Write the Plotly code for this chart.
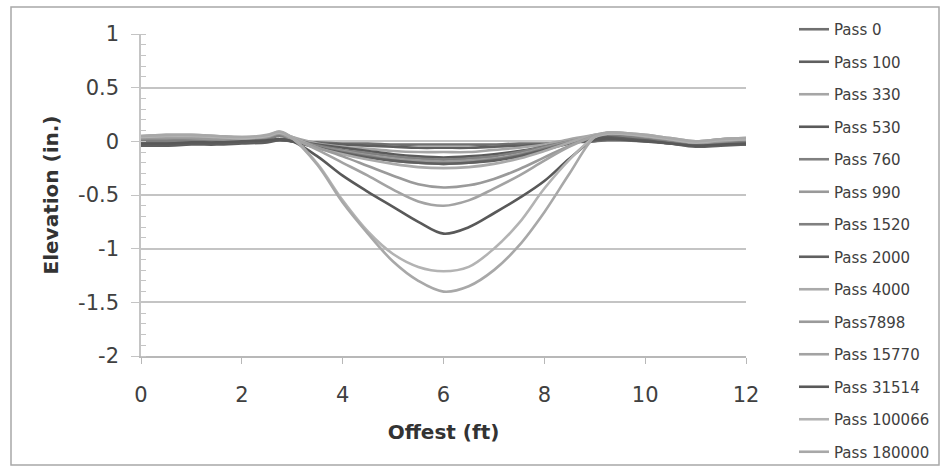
import plotly.graph_objects as go

offset_ft = [0, 0.5, 1, 1.5, 2, 2.5, 2.75, 3, 3.5, 4, 4.5, 5, 5.5, 6, 6.5, 7, 7.5, 8, 8.5, 9, 9.25, 9.5, 10, 10.5, 11, 11.5, 12]

series_names = ["Pass 0", "Pass 100", "Pass 330", "Pass 530", "Pass 760", "Pass 990", "Pass 1520",
                "Pass 2000", "Pass 4000", "Pass7898", "Pass 15770", "Pass 31514", "Pass 100066", "Pass 180000"]

pass_0 = [-0.02,-0.02,-0.02,-0.02,-0.01,0.00,0.01,0.00,-0.01,-0.02,-0.02,-0.03,-0.03,-0.03,-0.03,-0.03,-0.02,-0.02,-0.01,0.00,0.01,0.01,0.00,-0.01,-0.02,-0.02,-0.02]
pass_100 = [-0.04,-0.04,-0.03,-0.03,-0.02,-0.01,0.01,0.00,-0.02,-0.03,-0.04,-0.05,-0.06,-0.06,-0.06,-0.05,-0.04,-0.03,-0.01,0.01,0.02,0.02,0.01,-0.01,-0.03,-0.03,-0.03]
pass_330 = [0.04,0.05,0.05,0.04,0.03,0.05,0.08,0.04,-0.02,-0.05,-0.07,-0.09,-0.10,-0.10,-0.10,-0.08,-0.06,-0.03,0.02,0.06,0.08,0.07,0.05,0.02,0.00,0.02,0.03]
pass_530 = [-0.01,-0.02,-0.02,-0.02,-0.01,0.00,0.02,0.01,-0.03,-0.06,-0.09,-0.12,-0.14,-0.15,-0.14,-0.12,-0.09,-0.05,-0.01,0.02,0.03,0.03,0.01,-0.02,-0.04,-0.03,-0.02]
pass_760 = [0.02,0.02,0.02,0.01,0.01,0.03,0.06,0.03,-0.04,-0.08,-0.11,-0.14,-0.16,-0.17,-0.16,-0.14,-0.10,-0.05,0.00,0.04,0.06,0.05,0.03,0.00,-0.03,-0.02,0.00]
pass_990 = [0.03,0.04,0.04,0.03,0.02,0.04,0.07,0.03,-0.05,-0.09,-0.13,-0.16,-0.18,-0.19,-0.18,-0.16,-0.12,-0.06,0.00,0.05,0.07,0.06,0.04,0.01,-0.02,0.00,0.02]
pass_1520 = [0.00,0.00,0.01,0.00,0.00,0.02,0.05,0.02,-0.05,-0.10,-0.14,-0.18,-0.20,-0.21,-0.20,-0.17,-0.13,-0.07,-0.01,0.04,0.06,0.05,0.02,-0.01,-0.04,-0.03,-0.01]
pass_2000 = [-0.03,-0.03,-0.02,-0.02,-0.01,0.00,0.02,0.00,-0.06,-0.11,-0.15,-0.18,-0.20,-0.21,-0.20,-0.18,-0.14,-0.08,-0.02,0.02,0.04,0.03,0.01,-0.02,-0.05,-0.04,-0.03]
pass_4000 = [0.05,0.06,0.06,0.05,0.04,0.05,0.09,0.04,-0.06,-0.12,-0.17,-0.21,-0.24,-0.25,-0.24,-0.21,-0.16,-0.09,-0.01,0.06,0.08,0.08,0.06,0.03,0.00,0.02,0.03]
pass_7898 = [0.03,0.03,0.03,0.02,0.02,0.04,0.07,0.02,-0.06,-0.14,-0.23,-0.32,-0.40,-0.43,-0.41,-0.35,-0.26,-0.15,-0.04,0.05,0.07,0.07,0.05,0.02,-0.01,0.01,0.02]
pass_15770 = [0.04,0.05,0.05,0.04,0.03,0.05,0.08,0.03,-0.08,-0.20,-0.32,-0.45,-0.56,-0.60,-0.55,-0.44,-0.32,-0.18,-0.05,0.05,0.08,0.08,0.05,0.02,-0.01,0.01,0.02]
pass_31514 = [-0.02,-0.02,-0.01,-0.01,0.00,0.01,0.02,0.00,-0.14,-0.32,-0.47,-0.61,-0.75,-0.86,-0.80,-0.67,-0.53,-0.37,-0.16,0.02,0.03,0.02,0.00,-0.02,-0.04,-0.03,-0.02]
pass_100066 = [0.04,0.05,0.05,0.04,0.03,0.05,0.08,0.03,-0.21,-0.55,-0.84,-1.05,-1.17,-1.21,-1.17,-1.00,-0.76,-0.44,-0.17,0.04,0.07,0.07,0.05,0.02,-0.01,0.01,0.02]
pass_180000 = [0.05,0.06,0.06,0.05,0.04,0.06,0.09,0.03,-0.22,-0.57,-0.86,-1.12,-1.30,-1.40,-1.35,-1.20,-0.97,-0.66,-0.30,0.04,0.08,0.08,0.06,0.03,0.00,0.02,0.03]

series_values = [pass_0, pass_100, pass_330, pass_530, pass_760, pass_990, pass_1520,
                 pass_2000, pass_4000, pass_7898, pass_15770, pass_31514, pass_100066, pass_180000]

series_colors = ["#707070", "#5f5f5f", "#a6a6a6", "#5a5a5a", "#808080", "#999999", "#808080",
                 "#606060", "#aaaaaa", "#9a9a9a", "#a3a3a3", "#595959", "#b3b3b3", "#a8a8a8"]

y_ticks = [1, 0.5, 0, -0.5, -1, -1.5, -2]
x_ticks = [0, 2, 4, 6, 8, 10, 12]

FONT = "DejaVu Sans"

fig = go.Figure()
for i, (name, vals, col) in enumerate(zip(series_names, series_values, series_colors)):
    fig.add_trace(go.Scatter(
        x=offset_ft, y=vals, name=name, mode="lines",
        line=dict(color=col, width=2.6, shape="spline", smoothing=1.0),
        legendgroup="g%d" % i,
    ))

fig.update_layout(
    width=940, height=467,
    margin=dict(l=141, r=194, t=34, b=111, autoexpand=False),
    paper_bgcolor="white", plot_bgcolor="white",
    font=dict(family=FONT, color="#404040"),
    showlegend=True,
    legend=dict(xref="container", yref="container", x=794 / 940, y=1 - 13 / 467,
                xanchor="left", yanchor="top",
                font=dict(family=FONT, size=15, color="#404040"),
                tracegroupgap=10.0, itemwidth=30, bgcolor="rgba(0,0,0,0)", maxheight=1.0),
    xaxis=dict(range=[0, 12], tickvals=x_ticks, ticktext=[str(v) for v in x_ticks],
               showgrid=False, zeroline=False, showline=True, linecolor="#b8b8b8", linewidth=1.5,
               ticks="outside", ticklen=6, tickcolor="#b8b8b8", ticklabelstandoff=13,
               tickfont=dict(family=FONT, size=21, color="#404040"),
               title=dict(text="<b>Offest (ft)</b>", font=dict(family=FONT, size=20, color="#333333"), standoff=19)),
    yaxis=dict(range=[-2, 1], tickvals=y_ticks, ticktext=[("%g" % v) for v in y_ticks],
               showgrid=True, gridcolor="#c4c4c4", gridwidth=1.5, zeroline=False,
               showline=True, linecolor="#c4c4c4", linewidth=1.5,
               ticks="outside", ticklen=8, tickcolor="#c4c4c4", ticklabelstandoff=8,
               tickfont=dict(family=FONT, size=21, color="#404040"),
               minor=dict(dtick=0.1, ticks="inside", ticklen=5, tickcolor="#c4c4c4", showgrid=False),
               title=dict(text="<b>Elevation (in.)</b>", font=dict(family=FONT, size=20, color="#333333"), standoff=14)),
)

fig.add_shape(type="rect", xref="paper", yref="paper",
              x0=(11 - 141) / 605, x1=(939 - 141) / 605,
              y0=(356 - 465) / 322, y1=(356 - 7) / 322,
              line=dict(color="#a8a8a8", width=1.5), fillcolor="rgba(0,0,0,0)", layer="below")

fig.write_html("out.html")
